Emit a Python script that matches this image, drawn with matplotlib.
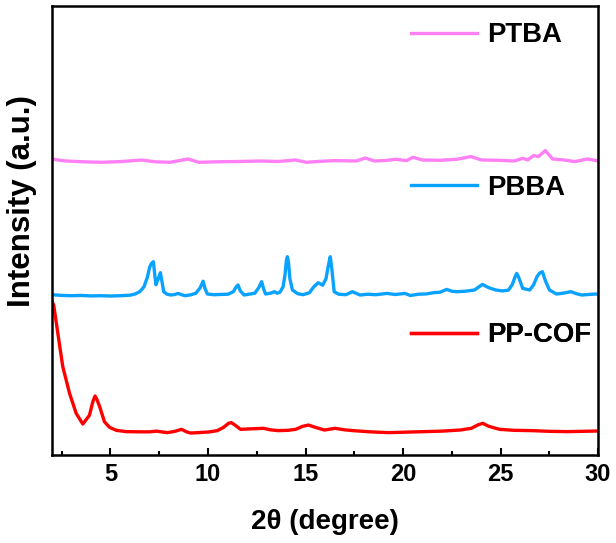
import matplotlib
matplotlib.use("Agg")
import matplotlib.pyplot as plt
from matplotlib.lines import Line2D
from matplotlib.ticker import MultipleLocator

plt.rcParams['font.family'] = ['Liberation Sans', 'DejaVu Sans']
plt.rcParams['font.weight'] = 'bold'

# ---- data: (2theta, intensity a.u.) ----
ptba = [(2.0, 4.3), (2.4, 3.0), (2.73, 2.3), (3.6, 1.5), (4.57, 1.0), (5.6, 1.8),
        (6.59, 3.3), (7.3, 1.5), (8.06, 1.0), (8.98, 4.3), (9.53, 1.0), (10.5, 1.5),
        (11.6, 1.8), (12.65, 2.3), (13.6, 1.8), (14.49, 3.3), (15.04, 1.0),
        (15.8, 2.0), (16.5, 2.7), (17.6, 2.3), (18.07, 5.3), (18.53, 2.3),
        (19.1, 2.8), (19.63, 4.0), (20.18, 2.7), (20.51, 6.0), (21.0, 3.3),
        (21.9, 3.0), (22.75, 4.0), (23.48, 6.7), (24.03, 3.3), (24.9, 3.0),
        (25.69, 2.3), (26.15, 5.0), (26.39, 3.3), (26.7, 7.7), (26.94, 6.7),
        (27.3, 12.7), (27.67, 4.3), (28.26, 3.3), (28.81, 1.7), (29.45, 4.3),
        (29.91, 2.7), (30.0, 2.7)]

pbba = [(2.0, 2.0), (2.5, 1.3), (3.0, 1.0), (3.5, 1.3), (4.0, 0.8), (4.5, 1.0),
        (5.0, 0.7), (5.5, 1.0), (6.0, 1.5), (6.26, 2.7), (6.5, 5.0), (6.72, 10.0),
        (6.9, 20.0), (7.0, 29.0), (7.09, 33.0), (7.2, 35.0), (7.27, 22.0),
        (7.33, 12.0), (7.45, 18.0), (7.56, 24.0), (7.65, 14.0), (7.73, 5.0),
        (7.9, 2.5), (8.1, 1.7), (8.3, 2.2), (8.47, 3.3), (8.65, 2.0), (8.83, 1.0),
        (9.1, 1.8), (9.38, 3.5), (9.6, 9.0), (9.75, 15.5), (9.85, 8.0), (9.97, 2.7),
        (10.3, 2.0), (10.7, 2.3), (11.03, 2.5), (11.3, 5.0), (11.45, 10.0),
        (11.54, 11.7), (11.65, 6.0), (11.85, 1.7), (12.1, 2.5), (12.4, 3.5),
        (12.6, 9.0), (12.75, 15.0), (12.85, 8.0), (12.95, 2.7), (13.2, 3.5),
        (13.41, 5.0), (13.55, 3.5), (13.69, 4.5), (13.85, 10.0), (13.95, 22.0),
        (14.02, 36.0), (14.07, 40.0), (14.13, 34.0), (14.2, 18.0), (14.33, 6.7),
        (14.6, 3.0), (14.88, 2.0), (15.2, 4.0), (15.43, 10.0), (15.65, 14.0),
        (15.88, 11.5), (16.05, 18.0), (16.18, 32.0), (16.27, 40.0), (16.35, 28.0),
        (16.47, 5.0), (16.7, 2.5), (17.07, 2.0), (17.4, 5.0), (17.8, 1.7),
        (18.2, 2.5), (18.6, 2.0), (19.18, 3.3), (19.6, 2.2), (20.1, 3.3),
        (20.37, 1.2), (20.8, 2.5), (21.2, 2.8), (21.56, 4.0), (21.9, 4.5),
        (22.24, 7.3), (22.5, 5.5), (22.75, 5.0), (23.2, 5.5), (23.67, 6.7),
        (24.07, 12.3), (24.4, 9.0), (24.76, 6.7), (25.1, 5.8), (25.4, 6.5),
        (25.6, 12.0), (25.75, 20.0), (25.83, 23.3), (25.92, 20.0), (26.14, 8.3),
        (26.5, 6.7), (26.7, 12.0), (26.87, 20.0), (27.0, 23.5), (27.15, 25.0),
        (27.3, 16.0), (27.51, 6.7), (27.87, 2.7), (28.2, 3.5), (28.61, 5.0),
        (28.9, 3.0), (29.16, 1.7), (29.5, 2.2), (29.87, 2.7), (30.0, 2.5)]

ppcof = [(2.0, 132.0), (2.09, 128.0), (2.3, 100.0), (2.55, 67.0), (2.9, 40.0),
         (3.24, 20.0), (3.58, 9.3), (3.92, 18.0), (4.1, 32.0), (4.21, 37.3),
         (4.3, 34.0), (4.44, 27.0), (4.69, 11.6), (4.95, 6.0), (5.3, 3.0),
         (5.8, 1.7), (6.5, 1.5), (7.0, 1.5), (7.36, 2.2), (7.7, 1.2), (7.92, 0.7),
         (8.3, 2.0), (8.64, 4.0), (8.9, 1.5), (9.1, 0.3), (9.6, 0.8), (10.1, 1.5),
         (10.48, 2.7), (10.8, 6.0), (11.05, 10.0), (11.2, 10.7), (11.4, 8.0),
         (11.67, 4.0), (12.2, 4.5), (12.86, 5.0), (13.2, 3.5), (13.6, 2.7),
         (14.1, 3.0), (14.5, 4.0), (14.85, 7.0), (15.15, 8.3), (15.5, 6.0),
         (15.97, 3.3), (16.52, 5.0), (17.0, 3.5), (17.44, 2.7), (18.3, 1.5),
         (19.26, 0.7), (20.2, 1.2), (21.1, 1.7), (22.0, 2.2), (22.93, 3.3),
         (23.5, 5.0), (23.85, 8.5), (24.09, 10.0), (24.4, 7.0), (24.95, 4.0),
         (25.7, 3.0), (26.6, 2.7), (27.5, 2.0), (28.43, 1.7), (29.2, 2.0),
         (29.9, 2.3), (30.0, 2.3)]

names = ['PTBA', 'PBBA', 'PP-COF']
series = [ptba, pbba, ppcof]
offsets = [291.7, 158.3, 21.7]          # vertical stacking offsets
colors = ['#FF80F4', '#0AA2FF', '#FF0000']
legend_y = [0.935, 0.595, 0.267]
xticks = [5, 10, 15, 20, 25, 30]

fig = plt.figure(figsize=(6.16, 5.43), dpi=100)
ax = fig.add_axes([0.0844, 0.162, 0.8864, 0.827])

for name, data, off, col, ly in zip(names, series, offsets, colors, legend_y):
    xs = [p[0] for p in data]
    ys = [p[1] + off for p in data]
    ax.plot(xs, ys, color=col, lw=2.4, solid_joinstyle='round')
    h = Line2D([], [], color=col, lw=2.4)
    leg = ax.legend(handles=[h], labels=[name], loc='center left',
                    bbox_to_anchor=(0.658, ly), frameon=False, borderpad=0,
                    borderaxespad=0, handlelength=2.4, handletextpad=0.37,
                    prop={'family': 'Liberation Sans', 'weight': 'bold', 'size': 19.8})
    ax.add_artist(leg)

ax.set_xlim(2, 30)
ax.set_ylim(0, 449)
ax.set_xticks(xticks)
ax.xaxis.set_minor_locator(MultipleLocator(2.5))
ax.set_yticks([])
ax.tick_params(axis='x', which='major', direction='in', length=5, width=1.5,
               labelsize=17, pad=6)
ax.tick_params(axis='x', which='minor', direction='in', length=3, width=1.5)
for lab in ax.get_xticklabels():
    lab.set_fontweight('bold')
for s in ax.spines.values():
    s.set_linewidth(1.8)

ax.set_xlabel('2θ (degree)', fontsize=20, fontweight='bold', labelpad=16)
ax.set_ylabel('Intensity (a.u.)', fontsize=22.5, fontweight='bold')
ax.yaxis.set_label_coords(-0.027, 0.565)

fig.savefig('out.png', dpi=100)
